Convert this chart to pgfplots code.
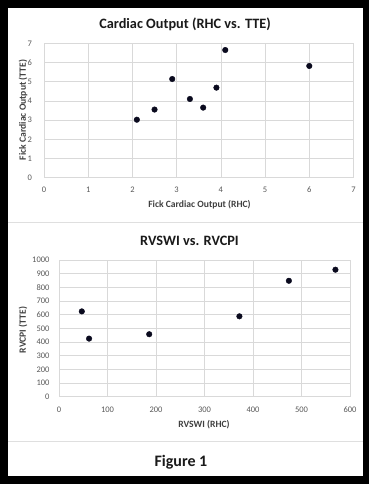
\documentclass[border=0pt]{standalone}
\usepackage{pgfplots}
\pgfplotsset{compat=1.18}
\usepackage{fontspec}
\setmainfont{Carlito}
\definecolor{gridc}{HTML}{D9D9D9}
\definecolor{tickc}{HTML}{595959}
\definecolor{labc}{HTML}{404040}
\definecolor{titc}{HTML}{1A1A1A}
\definecolor{markc}{HTML}{0A0A1E}
\pgfplotsset{
  excel/.style={
    scale only axis, anchor=south west,
    grid=major, grid style={gridc, line width=0.6pt},
    axis line style={gridc, line width=0.6pt},
    major tick length=0pt,
    tick label style={font=\fontsize{8.5}{9}\selectfont, text=tickc},
    /pgf/number format/assume math mode=true,
    /pgf/number format/1000 sep={},
    xticklabel style={anchor=center, yshift=-12.3pt},
    yticklabel style={anchor=east, xshift=-6pt},
    clip=false,
  }
}
\begin{document}
\begin{tikzpicture}[x=1pt,y=1pt]
\useasboundingbox (0,0) rectangle (369,484);
\fill[black] (0,0) rectangle (369,484);
\fill[white] (8,8) rectangle (362.5,476);
\draw[gray!25, line width=0.8pt] (8,262) -- (362.5,262);
\draw[gray!25, line width=0.8pt] (8,43) -- (362.5,43);

\begin{axis}[excel,
  width=309.5pt, height=134.4pt, at={(44pt,306.3pt)},
  xmin=0, xmax=7, ymin=0, ymax=7,
  xtick={0,1,...,7}, ytick={0,1,...,7},
  yticklabel style={xshift=-2.5pt},
]
\addplot[only marks, mark=*, mark size=2.8pt, color=markc] coordinates {
  (2.1,3.02) (2.5,3.55) (2.9,5.14) (3.3,4.1) (3.6,3.65) (3.9,4.69) (4.1,6.65) (6.0,5.82)
};
\end{axis}

\begin{axis}[excel,
  width=291pt, height=136.7pt, at={(59pt,87.3pt)},
  xmin=0, xmax=600, ymin=0, ymax=1000,
  xtick={0,100,...,600}, ytick={0,100,...,1000},
  xticklabel style={yshift=-0.5pt},
]
\addplot[only marks, mark=*, mark size=2.8pt, color=markc] coordinates {
  (47,624) (62,425) (186,457) (372,588) (474,848) (570,929)
};
\end{axis}

\node[font=\bfseries\fontsize{14.3}{16}\selectfont, text=titc] at (185,460) {Cardiac Output (RHC vs. TTE)};
\node[font=\bfseries\fontsize{9.6}{11}\selectfont, text=labc] at (199.5,279) {Fick Cardiac Output (RHC)};
\node[font=\bfseries\fontsize{9.6}{11}\selectfont, text=labc, rotate=90] at (23,374) {Fick Cardiac Output (TTE)};
\node[font=\bfseries\fontsize{14.3}{16}\selectfont, text=titc] at (189.5,243) {RVSWI vs. RVCPI};
\node[font=\bfseries\fontsize{9.6}{11}\selectfont, text=labc] at (204,59.3) {RVSWI (RHC)};
\node[font=\bfseries\fontsize{9.6}{11}\selectfont, text=labc, rotate=90] at (23,154) {RVCPI (TTE)};
\node[font=\bfseries\fontsize{16}{18}\selectfont, text=titc] at (181,22) {Figure 1};
\end{tikzpicture}
\end{document}
